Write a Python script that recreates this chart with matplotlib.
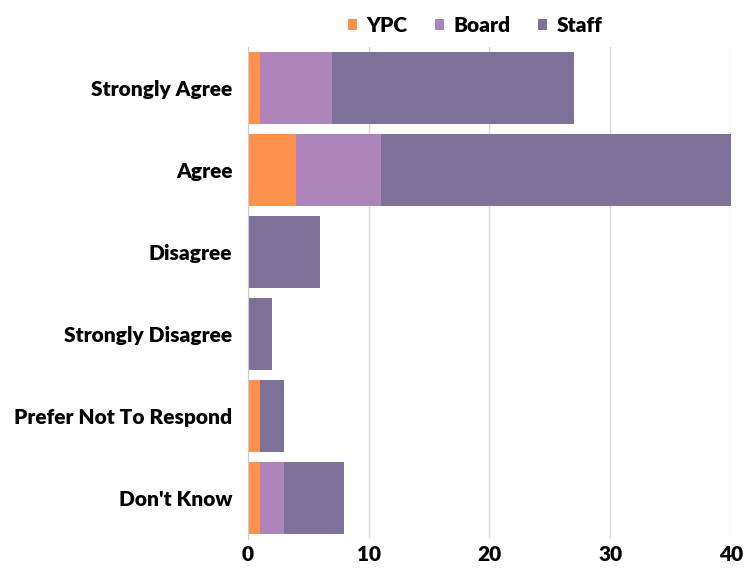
import matplotlib.pyplot as plt
import numpy as np

categories = ['Strongly Agree', 'Agree', 'Disagree', 'Strongly Disagree',
              'Prefer Not To Respond', "Don't Know"]
ypc = [1, 4, 0, 0, 1, 1]
board = [6, 7, 0, 0, 0, 2]
staff = [20, 29, 6, 2, 2, 5]

series = [('YPC', ypc, '#FF914D'), ('Board', board, '#AD84B9'), ('Staff', staff, '#7D7199')]

plt.rcParams['font.family'] = ['Lato', 'DejaVu Sans']
plt.rcParams['font.weight'] = 'bold'

fig = plt.figure(figsize=(7.46, 5.73), dpi=100)
ax = fig.add_axes([0.332, 0.059, 0.648, 0.859])

y = np.arange(len(categories))
left = np.zeros(len(categories))
for name, vals, color in series:
    ax.barh(y, vals, left=left, height=0.88, color=color, label=name, zorder=3)
    left += np.array(vals)

ax.set_ylim(len(categories) - 0.5, -0.5)
ax.set_xlim(0, 40)
ax.set_xticks([0, 10, 20, 30, 40])
ax.set_yticks(y)
ax.set_yticklabels(categories)
ax.tick_params(axis='both', length=0, labelsize=15, colors='black')
ax.tick_params(axis='x', pad=4)
ax.tick_params(axis='y', pad=11)
for lbl in ax.get_xticklabels() + ax.get_yticklabels():
    lbl.set_fontweight('heavy')

ax.grid(axis='x', color='#D9D9D9', linewidth=1, zorder=0)
for s in ['top', 'right', 'bottom']:
    ax.spines[s].set_visible(False)
ax.spines['left'].set_color('#CCCCCC')
ax.spines['left'].set_zorder(4)

fig.legend(loc='upper center', bbox_to_anchor=(0.637, 1.005), ncol=3, frameon=False,
           handlelength=0.45, handleheight=0.45, handletextpad=0.45, columnspacing=1.3,
           prop={'size': 15, 'weight': 'heavy'})

fig.savefig('out.png', dpi=100)
